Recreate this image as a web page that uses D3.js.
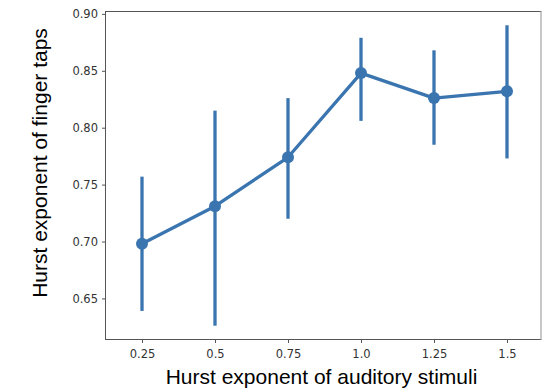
<!DOCTYPE html>
<html>
<head>
<meta charset="utf-8">
<script src="https://cdn.jsdelivr.net/npm/d3@7"></script>
<style>
  html, body { margin: 0; padding: 0; background: #fff; }
  svg { display: block; }
  .tick text { font-family: "DejaVu Sans", sans-serif; font-size: 11.5px; fill: #333; }
  .title { font-family: "Liberation Sans", Arial, sans-serif; fill: #000; }
</style>
</head>
<body>
<svg id="chart" width="542" height="390"></svg>
<script>
// pointplot: mean + error bar per stimulus Hurst exponent
const categories = ['0.25', '0.5', '0.75', '1.0', '1.25', '1.5'];
const means = [0.698, 0.731, 0.774, 0.848, 0.826, 0.832];
const errLow = [0.639, 0.626, 0.720, 0.806, 0.785, 0.773];
const errHigh = [0.757, 0.815, 0.826, 0.879, 0.868, 0.890];
const yTicks = [0.65, 0.70, 0.75, 0.80, 0.85, 0.90];

const plotL = 105.5, plotR = 541, plotT = 11.5, plotB = 339.5;
const blue = '#3a75b0';

const svg = d3.select('#chart');

// categorical axis: each slot one unit, padded by half a slot at both ends
const x = d3.scaleLinear().domain([-0.5, 5.5]).range([plotL, plotL + 6 * 73]);
const y = d3.scaleLinear().domain([0.6139, 0.9021]).range([plotB, plotT]);

const data = categories.map((c, i) => ({c, i, m: means[i], lo: errLow[i], hi: errHigh[i]}));

// frame
svg.append('rect')
  .attr('x', plotL).attr('y', plotT)
  .attr('width', plotR - plotL).attr('height', plotB - plotT)
  .attr('fill', 'none').attr('stroke', '#555').attr('stroke-width', 1);
svg.append('line')
  .attr('x1', plotR).attr('x2', plotR).attr('y1', plotT).attr('y2', plotB)
  .attr('stroke', '#ddd').attr('stroke-width', 1.2);

// axes
const xAxis = d3.axisBottom(x).tickValues(d3.range(6)).tickFormat(i => categories[i])
  .tickSize(3.5).tickPadding(7);
const gx = svg.append('g').attr('transform', `translate(0,${plotB})`).call(xAxis);
gx.select('.domain').remove();
gx.selectAll('.tick line').attr('stroke', '#555');

const yAxis = d3.axisLeft(y).tickValues(yTicks).tickFormat(d3.format('.2f'))
  .tickSize(3.5).tickPadding(4);
const gy = svg.append('g').attr('transform', `translate(${plotL},0)`).call(yAxis);
gy.select('.domain').remove();
gy.selectAll('.tick line').attr('stroke', '#555');

// error bars
svg.append('g').selectAll('line').data(data).enter()
  .append('line')
  .attr('x1', d => x(d.i)).attr('x2', d => x(d.i))
  .attr('y1', d => y(d.lo)).attr('y2', d => y(d.hi))
  .attr('stroke', blue).attr('stroke-width', 3.3);

// connecting line
svg.append('path').datum(data)
  .attr('d', d3.line().x(d => x(d.i)).y(d => y(d.m)))
  .attr('fill', 'none').attr('stroke', blue).attr('stroke-width', 3.3)
  .attr('stroke-linejoin', 'round');

// points
svg.append('g').selectAll('circle').data(data).enter()
  .append('circle')
  .attr('cx', d => x(d.i)).attr('cy', d => y(d.m))
  .attr('r', 6).attr('fill', blue);

// axis titles
svg.append('text').attr('class', 'title')
  .attr('x', 321.5).attr('y', 384)
  .attr('text-anchor', 'middle').attr('font-size', 21)
  .text('Hurst exponent of auditory stimuli');

svg.append('text').attr('class', 'title')
  .attr('transform', 'translate(46.5,163) rotate(-90)')
  .attr('text-anchor', 'middle').attr('font-size', 21)
  .text('Hurst exponent of finger taps');
</script>
</body>
</html>
